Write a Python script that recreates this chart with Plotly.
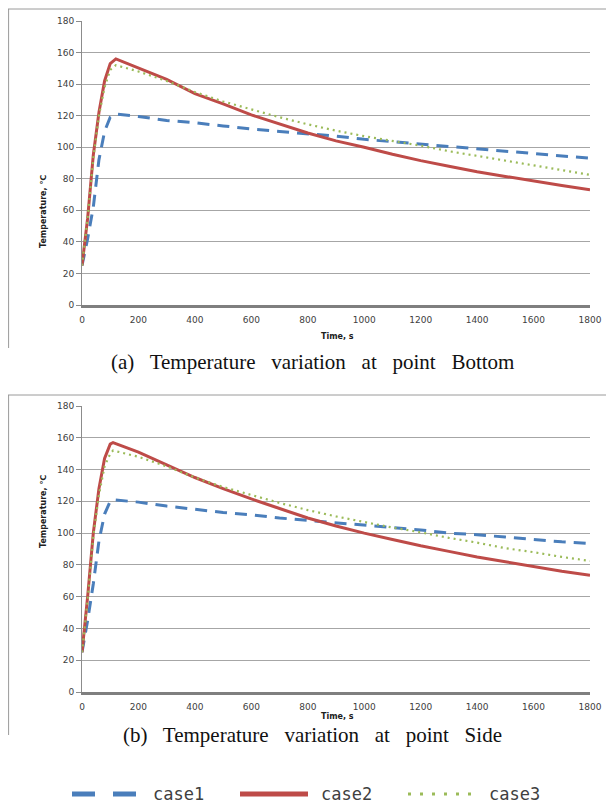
import plotly.graph_objects as go

# (a) point Bottom
t_a = [0, 20, 40, 60, 80, 100, 120, 200, 300, 400, 500, 600, 700, 800, 900,
       1000, 1100, 1200, 1300, 1400, 1500, 1600, 1700, 1800]
case1_a = [25, 42, 62, 92, 110, 119, 121, 119.5, 117, 115.5, 113.5, 111.5, 110, 108.5, 107,
           105, 103.5, 102, 100.5, 99, 97.5, 96, 94.5, 93]
case2_a = [25, 55, 95, 122, 142, 153, 156, 150, 143, 134, 127.5, 120.5, 114.5, 109, 104,
           100, 95.5, 91.5, 88, 84.5, 81.5, 78.5, 75.8, 73]
case3_a = [25, 55, 93, 120, 138, 149, 152, 148, 142, 135, 129, 124, 119, 114.5, 110.5,
           107, 104, 101, 97.5, 94.5, 91.5, 88.5, 85.5, 82.5]

# (b) point Side
t_b = [0, 20, 40, 60, 80, 100, 110, 200, 300, 400, 500, 600, 700, 800, 900,
       1000, 1100, 1200, 1300, 1400, 1500, 1600, 1700, 1800]
case1_b = [25, 45, 68, 95, 112, 120, 121, 119.5, 117, 115, 113, 111.5, 109.5, 108, 106.5,
           105, 103.5, 102, 100, 99, 97.5, 96, 94.5, 93.5]
case2_b = [25, 60, 100, 128, 147, 156, 157, 151, 143, 135, 128, 121.5, 115.5, 109.5, 104.5,
           100, 96, 92, 88.5, 85, 82, 79, 76, 73.5]
case3_b = [25, 58, 98, 124, 142, 150, 152, 148, 142, 135, 129, 124, 119, 114.5, 110.5,
           107, 103.5, 100.5, 97, 94, 90.5, 88, 85, 82.5]

x_ticks = [0, 200, 400, 600, 800, 1000, 1200, 1400, 1600, 1800]
y_ticks = [0, 20, 40, 60, 80, 100, 120, 140, 160, 180]
case_names = ["case1", "case2", "case3"]

# page body keeps its default 8px margin, so the figure is 16px smaller
OFF = 8
W, H = 614 - 2 * OFF, 811 - 2 * OFF
BLUE = "#4a7ebb"
RED = "#be4b48"
GREEN = "#9bbb59"

lines = [
    dict(color=BLUE, width=3, dash="12px,8px"),
    dict(color=RED, width=3),
    dict(color=GREEN, width=2.2, dash="2px,4px"),
]

fig = go.Figure()
panels = [(t_a, [case1_a, case2_a, case3_a], "x", "y"),
          (t_b, [case1_b, case2_b, case3_b], "x2", "y2")]
for t, series, xa, ya in panels:
    for name, line, vals in zip(case_names, lines, series):
        fig.add_trace(go.Scatter(x=t, y=vals, mode="lines", name=name, line=line,
                                 xaxis=xa, yaxis=ya, showlegend=False))


def px_x(v):
    return (v - OFF) / W


def px_y(v):
    return (H - (v - OFF)) / H


axis_font = dict(family="DejaVu Sans", size=9, color="#404040")
xcommon = dict(range=[0, 1800], tickvals=x_ticks, showgrid=False, zeroline=False,
               showline=True, linecolor="#7f7f7f", linewidth=3,
               ticks="outside", ticklen=4, tickcolor="rgba(0,0,0,0)",
               tickfont=axis_font, fixedrange=True, automargin=False)
ycommon = dict(range=[0, 180], tickvals=y_ticks, showgrid=True, gridcolor="#a6a6a6",
               gridwidth=1, zeroline=False, showline=True, linecolor="#8c8c8c",
               linewidth=1, ticks="outside", ticklen=5, tickcolor="#8c8c8c",
               tickfont=axis_font, fixedrange=True, automargin=False)

fig.update_layout(
    width=W, height=H, margin=dict(l=0, r=0, t=0, b=0, autoexpand=False),
    paper_bgcolor="white", plot_bgcolor="white", showlegend=False,
    xaxis=dict(domain=[px_x(82), px_x(590)], anchor="y", **xcommon),
    yaxis=dict(domain=[px_y(305), px_y(21)], anchor="x", **ycommon),
    xaxis2=dict(domain=[px_x(82), px_x(590)], anchor="y2", **xcommon),
    yaxis2=dict(domain=[px_y(692), px_y(406)], anchor="x2", **ycommon),
)

# frames around the two panels
for top, bottom in [(8, 348), (394, 735)]:
    fig.add_shape(type="line", xref="paper", yref="paper", x0=0, x1=1,
                  y0=px_y(top + 1), y1=px_y(top + 1), line=dict(color="#9a9a9a", width=1))
    fig.add_shape(type="line", xref="paper", yref="paper", x0=0.001, x1=0.001,
                  y0=px_y(top + 1), y1=px_y(bottom), line=dict(color="#9a9a9a", width=1))

title_font = dict(family="DejaVu Sans", size=8, color="#202020")
for ytitle_y, xtitle_y in [(173, 336), (550, 723)]:
    fig.add_annotation(text="<b>Temperature, ℃</b>", xref="paper", yref="paper",
                       x=px_x(37), y=px_y(ytitle_y), showarrow=False, textangle=-90,
                       font=title_font)
    fig.add_annotation(text="<b>Time, s</b>", xref="paper", yref="paper",
                       x=px_x(337), y=px_y(xtitle_y), showarrow=False, font=title_font)

cap_font = dict(family="Liberation Serif", size=21, color="#111111")
fig.add_annotation(text="(a)   Temperature   variation   at   point   Bottom", xref="paper",
                   yref="paper", x=px_x(312), y=px_y(362), showarrow=False, font=cap_font)
fig.add_annotation(text="(b)   Temperature   variation   at   point   Side", xref="paper",
                   yref="paper", x=px_x(312), y=px_y(749), showarrow=False, font=cap_font)

# legend key drawn below the panels
key_lines = [
    dict(color=BLUE, width=5, dash="23px,18px"),
    dict(color=RED, width=5),
    dict(color=GREEN, width=3, dash="3px,9px"),
]
key_y = px_y(794)
for i, (name, kl) in enumerate(zip(case_names, key_lines)):
    x0 = 72 + i * 168
    fig.add_shape(type="line", xref="paper", yref="paper", x0=px_x(x0), x1=px_x(x0 + 68),
                  y0=key_y, y1=key_y, line=kl)
    fig.add_annotation(text=name, xref="paper", yref="paper", x=px_x(x0 + 79), y=key_y,
                       xanchor="left", yanchor="middle", showarrow=False,
                       font=dict(family="DejaVu Sans Mono", size=17, color="#404040"))

fig.write_html("out.html")
